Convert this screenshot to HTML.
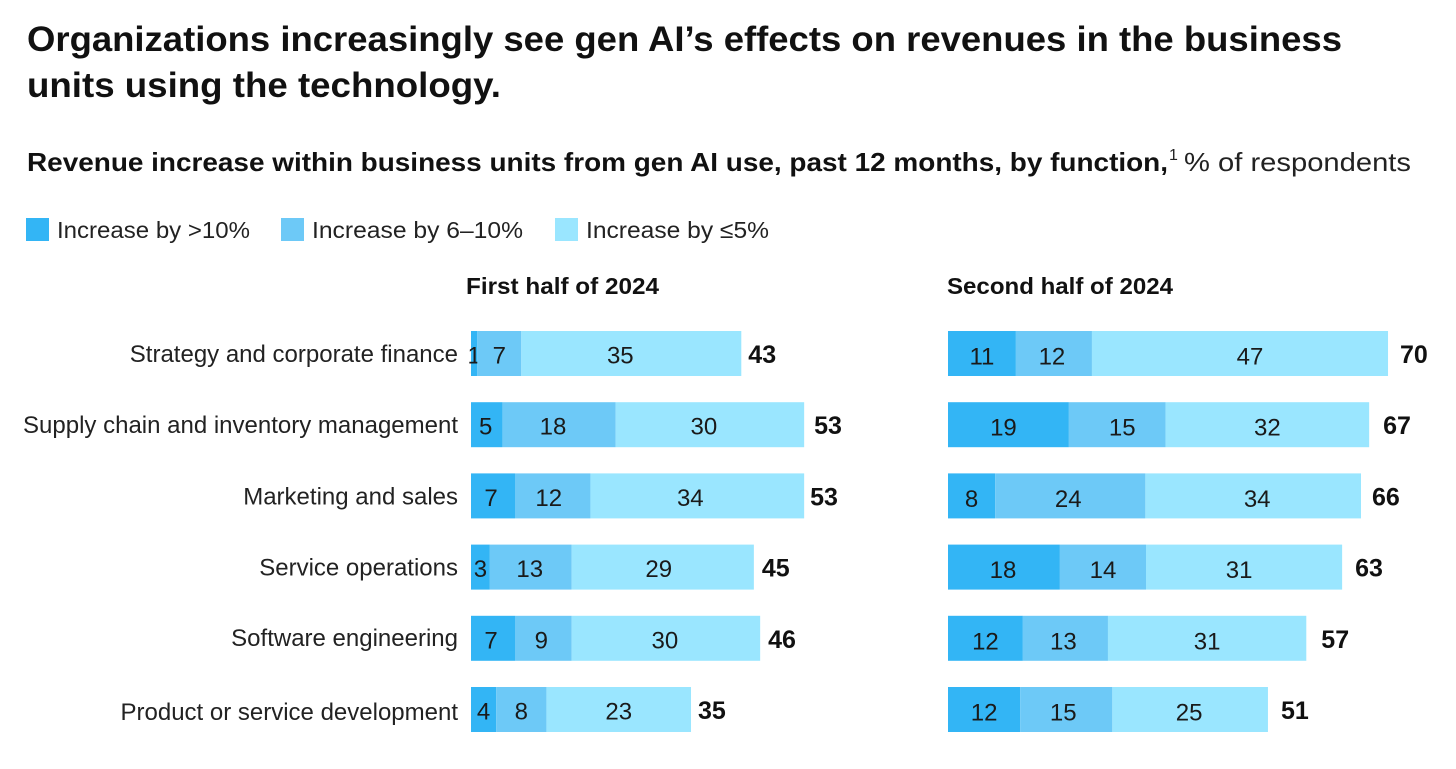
<!DOCTYPE html>
<html lang="en">
<head>
<meta charset="utf-8">
<title>Revenue increase within business units from gen AI use</title>
<style>
html,body{margin:0;padding:0;background:#fff;}
body{width:1456px;height:769px;overflow:hidden;}
svg{display:block;font-family:"Liberation Sans",sans-serif;fill:#111;}
.title{font-size:35px;font-weight:700;}
.sub{font-size:26px;}
.legend{font-size:23.5px;fill:#222;}
.panel{font-size:23px;font-weight:700;}
.row{font-size:24px;fill:#222;text-anchor:end;}
.val{font-size:24px;fill:#1a1a1a;text-anchor:middle;}
.tot{font-size:25px;font-weight:700;}
</style>
</head>
<body>
<svg id="chart" width="1456" height="769" viewBox="0 0 1456 769" xmlns="http://www.w3.org/2000/svg">
  <text class="title" x="27" y="51" textLength="1315" lengthAdjust="spacingAndGlyphs">Organizations increasingly see gen AI’s effects on revenues in the business</text>
  <text class="title" x="27" y="97" textLength="474" lengthAdjust="spacingAndGlyphs">units using the technology.</text>
  <text class="sub" x="27" y="171" font-weight="700" textLength="1141" lengthAdjust="spacingAndGlyphs">Revenue increase within business units from gen AI use, past 12 months, by function,</text>
  <text x="1169" y="160" font-size="16" fill="#222">1</text>
  <text class="sub" x="1184" y="171" fill="#222" textLength="227" lengthAdjust="spacingAndGlyphs">% of respondents</text>

  <rect x="26" y="218" width="23" height="23" fill="#33b5f5"/>
  <text class="legend" x="57" y="238" textLength="193" lengthAdjust="spacingAndGlyphs">Increase by &gt;10%</text>
  <rect x="281" y="218" width="23" height="23" fill="#6dc9f7"/>
  <text class="legend" x="312" y="238" textLength="211" lengthAdjust="spacingAndGlyphs">Increase by 6–10%</text>
  <rect x="555" y="218" width="23" height="23" fill="#9ae6ff"/>
  <text class="legend" x="586" y="238" textLength="183" lengthAdjust="spacingAndGlyphs">Increase by ≤5%</text>

  <text class="panel" x="466" y="294" textLength="193" lengthAdjust="spacingAndGlyphs">First half of 2024</text>
  <text class="panel" x="947" y="294" textLength="226" lengthAdjust="spacingAndGlyphs">Second half of 2024</text>
</svg>
<script>
const categories = ["Strategy and corporate finance", "Supply chain and inventory management", "Marketing and sales", "Service operations", "Software engineering", "Product or service development"];
const firstOver10 = [1, 5, 7, 3, 7, 4];
const firstMid = [7, 18, 12, 13, 9, 8];
const firstUpTo5 = [35, 30, 34, 29, 30, 23];
const firstTotals = [43, 53, 53, 45, 46, 35];
const secondOver10 = [10.8, 19, 7.5, 17.8, 11.7, 11.6];
const secondMid = [12.1, 15.2, 23.9, 13.7, 13.3, 14.8];
const secondUpTo5 = [47.1, 32, 34.3, 31.2, 31, 25];
const secondTotals = [70, 67, 65.7, 62.7, 57, 50.9];

const NS = "http://www.w3.org/2000/svg";
const svg = document.getElementById("chart");
const UNIT = 6.286;
const COLORS = ["#33b5f5", "#6dc9f7", "#9ae6ff"];
const SERIES_KEYS = ["over-10", "mid", "up-to-5"];

function rowTop(i) { return 331 + 71.2 * i; }

function add(tag, attrs, text) {
  const el = document.createElementNS(NS, tag);
  for (const k in attrs) el.setAttribute(k, attrs[k]);
  if (text !== undefined) el.textContent = text;
  svg.appendChild(el);
  return el;
}

function drawCategoryLabels() {
  const rowNudge = [0, 0, 0, 0, -1, 2];
  categories.forEach(function (name, i) {
    const label = add("text", { class: "row", x: 458, y: rowTop(i) + 31 + rowNudge[i] }, name);
    
    
  });
}
drawCategoryLabels();

function drawPanel(panelName, x0, series, totals, valueDy, totalGap, valueNudge, totalNudge) {
  categories.forEach(function (name, i) {
    const parts = series.map(function (s) { return s[i]; });
    const sum = parts.reduce(function (a, b) { return a + b; }, 0);
    const fit = totals[i] / sum;
    let cum = 0;
    const top = rowTop(i);
    parts.forEach(function (v, s) {
      const x = x0 + cum * fit * UNIT;
      const w = v * fit * UNIT;
      const bar = add("rect", { x: x, y: top, width: w, height: 45, fill: COLORS[s] });
      
      bar.setAttribute('data-series', panelName + '-' + SERIES_KEYS[s]);
      
      const val = add("text", { class: "val", x: x + w / 2 + valueNudge[i][s], y: top + 22.5 + valueDy }, Math.round(v));
      
      
      cum += v;
    });
    const tot = add("text", { class: "tot", x: x0 + totals[i] * UNIT + totalGap + totalNudge[i], y: top + 32 }, Math.round(totals[i]));
    
    
  });
}

function render() {
  drawPanel("first-half", 471, [firstOver10, firstMid, firstUpTo5], firstTotals, 10, 7,
    [[0, 0, -11], [-1, -6, -6], [-2, -4, -7], [0, -1, -4], [-2, -2, -1], [0, 0, 0]],
    [0, 3, -1, 1, 1, 0]);
  drawPanel("second-half", 948, [secondOver10, secondMid, secondUpTo5], secondTotals, 11, 12,
    [[0, -2, 10], [-5, 5, 0], [0, -2, 4], [-1, 0, -5], [0, -2, 0], [0, -3, -1]],
    [0, 2, -1, 1, 3, 1]);
}
render();
</script>
</body>
</html>
